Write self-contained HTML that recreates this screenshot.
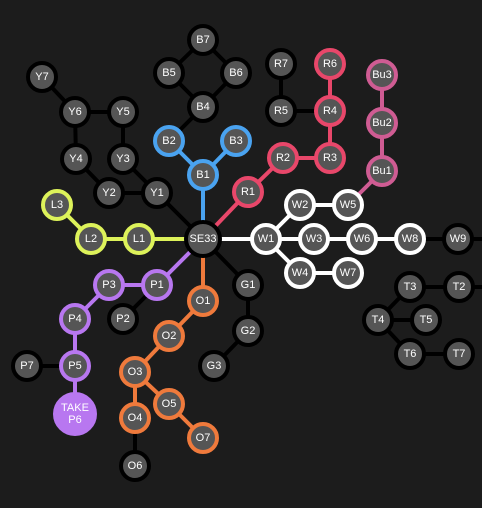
<!DOCTYPE html>
<html><head><meta charset="utf-8">
<style>
html,body{margin:0;padding:0;background:#1c1c1c;width:482px;height:508px;overflow:hidden}
svg{display:block}
text{font-family:"Liberation Sans",sans-serif;font-size:11px;fill:#fff;text-anchor:middle;dominant-baseline:central}
</style></head>
<body>
<svg id="g" width="482" height="508" viewBox="0 0 482 508"></svg>
<script>
const nodeIds=["B7","B5","B6","B4","B2","B3","B1","R7","R6","R5","R4","R3","R2","R1","Bu3","Bu2","Bu1","Y7","Y6","Y5","Y4","Y3","Y2","Y1","L3","L2","L1","SE33","W1","W2","W5","W3","W6","W8","W9","W4","W7","T3","T2","T4","T5","T6","T7","G1","G2","G3","O1","O2","O3","O4","O5","O7","O6","P3","P1","P2","P4","P5","P7","P6"];
const nodeX=[203,169,236,203,169,236,203,281,330,281,330,330,283,248,382,382,382,42,75,123,76,123,109,157,57,91,139,203,266,300,348,314,362,410,458,300,348,410,459,378,426,410,459,248,248,214,203,169,135,135,169,203,135,109,157,123,75,75,27,75];
const nodeY=[40,73,73,107,141,141,175,64,64,111,111,158,158,192,75,123,171,77,112,112,159,159,193,193,205,239,239,239,239,205,205,239,239,239,239,273,273,287,287,320,320,354,354,285,331,366,301,336,372,418,404,438,466,285,285,319,319,366,366,414];
const nodeColor=["","","","","#4aa3f0","#4aa3f0","#4aa3f0","","#e8476a","","#e8476a","#e8476a","#e8476a","#e8476a","#cf5c93","#cf5c93","#cf5c93","","","","","","","","#ddf25a","#ddf25a","#ddf25a","","#fff","#fff","#fff","#fff","#fff","#fff","","#fff","#fff","","","","","","","","","","#ef7a3c","#ef7a3c","#ef7a3c","#ef7a3c","#ef7a3c","#ef7a3c","","#b877f0","#b877f0","","#b877f0","#b877f0","","#b877f0"];
const edgeFrom=["B7","B7","B5","B6","B4","B2","B3","B1","R7","R5","R6","R4","R3","R2","R1","Bu3","Bu2","Bu1","Y7","Y6","Y6","Y5","Y4","Y3","Y2","Y1","L3","L2","L1","SE33","W1","W2","W1","W3","W6","W8","W1","W4","T3","T3","T4","T4","T6","SE33","G1","G2","SE33","O1","O2","O3","O3","O5","O4","SE33","P1","P3","P4","P5","P1","P5","W9","T2"];
const edgeTo=["B5","B6","B4","B4","B2","B1","B1","SE33","R5","R4","R4","R3","R2","R1","SE33","Bu2","Bu1","W5","Y6","Y5","Y4","Y3","Y2","Y1","Y1","SE33","L2","L1","SE33","W1","W2","W5","W3","W6","W8","W9","W4","W7","T2","T4","T5","T6","T7","G1","G2","G3","O1","O2","O3","O4","O5","O7","O6","P1","P3","P4","P5","P6","P2","P7","EDGE1","EDGE2"];
const edgeColor=["","","","","","#4aa3f0","#4aa3f0","#4aa3f0","","","#e8476a","#e8476a","#e8476a","#e8476a","#e8476a","#cf5c93","#cf5c93","#cf5c93","","","","","","","","","#ddf25a","#ddf25a","#ddf25a","#fff","#fff","#fff","#fff","#fff","#fff","","#fff","#fff","","","","","","","","","#ef7a3c","#ef7a3c","#ef7a3c","#ef7a3c","#ef7a3c","#ef7a3c","","#b877f0","#b877f0","#b877f0","#b877f0","#b877f0","","","",""];
const NS="http://www.w3.org/2000/svg";
const svg=document.getElementById('g');
function pos(id){
  if(id==="EDGE1")return [490,239];
  if(id==="EDGE2")return [490,287];
  const i=nodeIds.indexOf(id);return [nodeX[i],nodeY[i]];
}
for(let i=0;i<edgeFrom.length;i++){
  const a=pos(edgeFrom[i]),b=pos(edgeTo[i]);
  const l=document.createElementNS(NS,'line');
  l.setAttribute('x1',a[0]);l.setAttribute('y1',a[1]);l.setAttribute('x2',b[0]);l.setAttribute('y2',b[1]);
  l.setAttribute('stroke',edgeColor[i]||'#000');l.setAttribute('stroke-width',4);
  
  
  svg.appendChild(l);
}
for(let i=0;i<nodeIds.length;i++){
  const id=nodeIds[i];
  const g=document.createElementNS(NS,'g');
  
  
  const c=document.createElementNS(NS,'circle');
  let r=14;
  if(id==="SE33")r=17;
  if(id==="P6")r=20;
  c.setAttribute('cx',nodeX[i]);c.setAttribute('cy',nodeY[i]);c.setAttribute('r',r);
  c.setAttribute('fill',id==="P6"?'#b877f0':'#555');
  c.setAttribute('stroke',id==="P6"?'#b877f0':(nodeColor[i]||'#000'));c.setAttribute('stroke-width',4);
  g.appendChild(c);
  if(id==="P6"){
    const t1=document.createElementNS(NS,'text');t1.setAttribute('x',nodeX[i]);t1.setAttribute('y',nodeY[i]-6);t1.setAttribute('font-size','10');t1.textContent='TAKE';g.appendChild(t1);
    const t2=document.createElementNS(NS,'text');t2.setAttribute('x',nodeX[i]);t2.setAttribute('y',nodeY[i]+6);t2.setAttribute('font-size','10');t2.textContent='P6';g.appendChild(t2);
  } else {
    const t=document.createElementNS(NS,'text');t.setAttribute('x',nodeX[i]);t.setAttribute('y',nodeY[i]);t.textContent=id;g.appendChild(t);
  }
  svg.appendChild(g);
}
</script>
</body></html>
